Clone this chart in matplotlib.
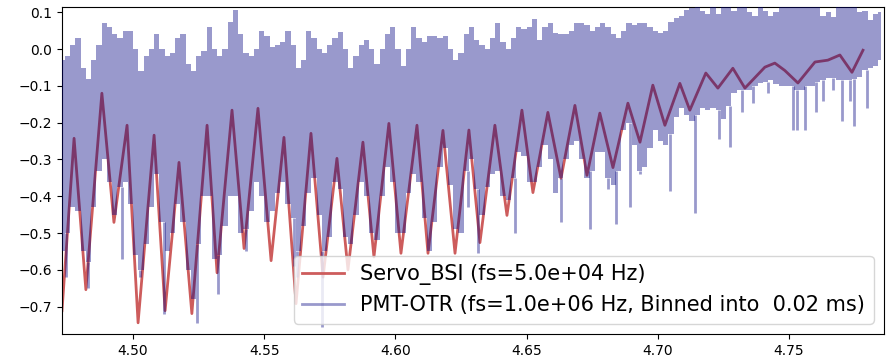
import numpy as np
import matplotlib
matplotlib.use('Agg')
import matplotlib.pyplot as plt

# Servo_BSI: turning points (time in s, signal)
servo_t = [4.4729, 4.4775, 4.4820, 4.4881, 4.4927, 4.4977, 4.5019, 4.5080, 4.5122, 4.5175,
           4.5224, 4.5282, 4.5320, 4.5377, 4.5423, 4.5476, 4.5526, 4.5575, 4.5621, 4.5678,
           4.5724, 4.5777, 4.5819, 4.5876, 4.5918, 4.5975, 4.6021, 4.6082, 4.6124, 4.6181,
           4.6227, 4.6280, 4.6322, 4.6379, 4.6425, 4.6482, 4.6524, 4.6581, 4.6631, 4.6684,
           4.6730, 4.6779, 4.6829, 4.6886, 4.6932, 4.6981, 4.7027, 4.7084, 4.7122, 4.7183,
           4.7229, 4.7286, 4.7332, 4.7408, 4.7446, 4.7484, 4.7534, 4.7599, 4.7648, 4.7694,
           4.7740, 4.7782]
servo_v = [-0.711, -0.2425, -0.654, -0.120, -0.471, -0.207, -0.744, -0.234, -0.711, -0.308,
           -0.719, -0.207, -0.608, -0.166, -0.542, -0.161, -0.575, -0.240, -0.692, -0.229,
           -0.620, -0.297, -0.600, -0.253, -0.565, -0.202, -0.555, -0.207, -0.555, -0.221,
           -0.555, -0.220, -0.526, -0.207, -0.452, -0.166, -0.390, -0.172, -0.351, -0.153,
           -0.343, -0.174, -0.322, -0.147, -0.253, -0.098, -0.207, -0.093, -0.166, -0.065,
           -0.106, -0.052, -0.106, -0.049, -0.038, -0.058, -0.092, -0.035, -0.030, -0.016,
           -0.063, -0.003]

# PMT-OTR: envelope of the binned signal, one value every 2 ms
pmt_t0 = 4.473
pmt_dt = 0.002
pmt_hi = [-0.03, -0.02, 0.01, 0.03, -0.05, -0.08, -0.03, 0.01, 0.07, 0.06,
          0.04, 0.03, 0.05, 0.05, 0.0, -0.06, -0.02, 0.0, 0.04, 0.0,
          -0.02, -0.01, 0.03, 0.04, -0.04, -0.06, -0.02, -0.005, 0.06, 0.0,
          -0.02, 0.0, 0.074, 0.106, 0.04, -0.01, -0.02, 0.0, 0.05, 0.035,
          0.005, 0.01, 0.02, 0.05, 0.01, -0.05, -0.03, 0.05, 0.03, 0.0,
          -0.01, 0.01, 0.03, 0.046, 0.0, -0.05, -0.02, 0.01, 0.025, 0.0,
          -0.04, 0.0, 0.04, 0.06, 0.0, -0.045, 0.0, 0.06, 0.03, 0.02,
          0.035, 0.035, 0.03, 0.035, 0.0, -0.03, -0.01, 0.04, 0.06, 0.025,
          0.01, 0.0, 0.03, 0.07, 0.02, 0.0, 0.03, 0.06, 0.055, 0.06,
          0.083, 0.025, 0.06, 0.07, 0.045, 0.04, 0.04, 0.05, 0.07, 0.07,
          0.065, 0.05, 0.06, 0.07, 0.06, 0.04, 0.03, 0.05, 0.07, 0.065,
          0.07, 0.07, 0.06, 0.05, 0.045, 0.05, 0.075, 0.085, 0.09, 0.106,
          0.112, 0.115, 0.105, 0.095, 0.115, 0.095, 0.115, 0.115, 0.105, 0.115,
          0.115, 0.1, 0.09, 0.115, 0.105, 0.09, 0.1, 0.115, 0.115, 0.115,
          0.115, 0.115, 0.115, 0.115, 0.115, 0.09, 0.1, 0.088, 0.115, 0.115,
          0.115, 0.115, 0.1, 0.105, 0.08, 0.095, 0.1]
pmt_lo = [-0.55, -0.50, -0.43, -0.44, -0.55, -0.58, -0.43, -0.33, -0.30, -0.36,
          -0.45, -0.375, -0.36, -0.42, -0.56, -0.60, -0.53, -0.43, -0.34, -0.47,
          -0.55, -0.50, -0.42, -0.47, -0.60, -0.68, -0.53, -0.40, -0.40, -0.57,
          -0.56, -0.48, -0.40, -0.40, -0.50, -0.49, -0.44, -0.36, -0.40, -0.47,
          -0.44, -0.39, -0.36, -0.42, -0.46, -0.55, -0.48, -0.39, -0.35, -0.45,
          -0.55, -0.51, -0.36, -0.38, -0.51, -0.53, -0.45, -0.36, -0.40, -0.50,
          -0.52, -0.40, -0.32, -0.36, -0.50, -0.50, -0.39, -0.34, -0.36, -0.46,
          -0.55, -0.47, -0.32, -0.27, -0.37, -0.49, -0.50, -0.33, -0.30, -0.38,
          -0.45, -0.375, -0.34, -0.33, -0.40, -0.41, -0.35, -0.28, -0.29, -0.36,
          -0.36, -0.32, -0.26, -0.30, -0.39, -0.35, -0.30, -0.26, -0.25, -0.30,
          -0.35, -0.33, -0.28, -0.28, -0.35, -0.37, -0.33, -0.22, -0.20, -0.26,
          -0.33, -0.32, -0.27, -0.22, -0.25, -0.26, -0.23, -0.185, -0.16, -0.18,
          -0.195, -0.18, -0.16, -0.165, -0.16, -0.165, -0.19, -0.155, -0.12, -0.11,
          -0.11, -0.11, -0.10, -0.093, -0.09, -0.085, -0.095, -0.10, -0.10, -0.10,
          -0.11, -0.11, -0.10, -0.10, -0.09, -0.085, -0.078, -0.078, -0.085, -0.085,
          -0.085, -0.08, -0.075, -0.057, -0.05, -0.045, -0.03]
# single low bins sticking out under the band
spike_t = [4.4744, 4.4828, 4.4958, 4.5026, 4.5118, 4.5243, 4.5323, 4.5430, 4.5613, 4.5625,
           4.5720, 4.6276, 4.6314, 4.6455, 4.6631, 4.6741, 4.6810, 4.6840, 4.6894, 4.6932,
           4.7046, 4.7141, 4.7233, 4.7275, 4.7320, 4.7362, 4.7420, 4.7515, 4.7530, 4.7561,
           4.7602, 4.7629, 4.7667, 4.7701, 4.7732, 4.7747, 4.7797]
spike_v = [-0.62, -0.65, -0.57, -0.62, -0.72, -0.745, -0.665, -0.55, -0.59, -0.62,
           -0.755, -0.43, -0.555, -0.50, -0.47, -0.49, -0.38, -0.475, -0.43, -0.34,
           -0.385, -0.445, -0.245, -0.265, -0.17, -0.147, -0.12, -0.22, -0.22, -0.22,
           -0.17, -0.14, -0.11, -0.195, -0.14, -0.21, -0.16]

fs_servo = 5.0e4
fs_pmt = 1.0e6
bin_ms = 0.02

red = 'indianred'
blue = 'navy'

fig = plt.figure(figsize=(8.92, 3.6), dpi=100)
ax = fig.add_axes([0.0695, 0.0722, 0.9215, 0.9083])

ax.plot(servo_t, servo_v, color=red, lw=2, zorder=2,
        label='Servo_BSI (fs=%.1e Hz)' % fs_servo)

# PMT drawn over the servo trace, like the original
t_grid = pmt_t0 + pmt_dt * np.arange(len(pmt_hi))
lo = np.array(pmt_lo)
ax.fill_between(t_grid, lo, pmt_hi, step='mid', color=blue, alpha=0.4, lw=0, zorder=3)
idx = [np.abs(t_grid - s).argmin() for s in spike_t]
ax.vlines(spike_t, spike_v, lo[idx], color=blue, alpha=0.4, lw=2,
          capstyle='butt', zorder=3)
ax.plot([], [], color=blue, alpha=0.4, lw=2,
        label='PMT-OTR (fs=%.1e Hz, Binned into %5.2f ms)' % (fs_pmt, bin_ms))

ax.set_xlim(4.4729, 4.7862)
ax.set_ylim(-0.7745, 0.1145)
ax.legend(loc='lower right', fontsize=15)

fig.savefig('out.png')
